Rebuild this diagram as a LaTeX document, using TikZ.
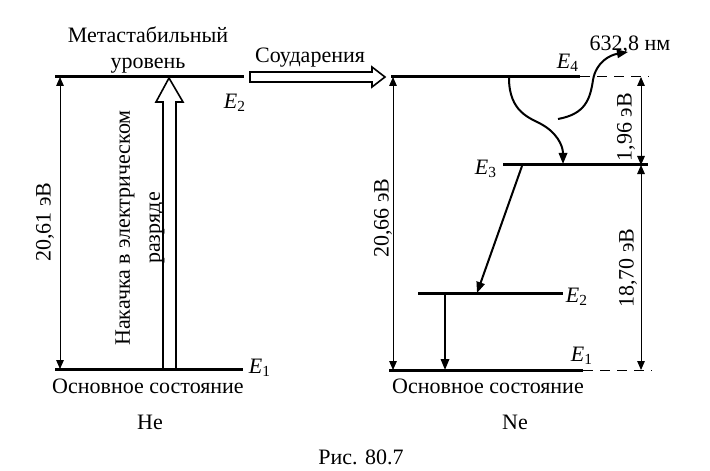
\documentclass[tikz,border=0pt]{standalone}
\usepackage{fontspec}
\setmainfont{Liberation Serif}
\usetikzlibrary{arrows.meta}

\newcommand\En[1]{\textit{E}\textsubscript{#1}}

\begin{document}
\begin{tikzpicture}[x=0.5pt,y=-0.5pt,
    lvl/.style={line width=1.5pt},
    dimline/.style={line width=0.5pt, {Triangle[length=4.5pt,width=3.8pt]}-{Triangle[length=4.5pt,width=3.8pt]}},
    trans/.style={line width=1pt, -{Triangle[length=5.5pt,width=4.2pt]}},
    hollow/.style={line width=0.8pt, line join=miter},
    txt/.style={font=\fontsize{11}{13}\selectfont, inner sep=1pt}]
    \useasboundingbox (0,0) rectangle (710,470);

    % He levels
    \coordinate (HeE2a) at (55,77);
    \coordinate (HeE2b) at (244,77);
    \coordinate (HeE1a) at (55,369);
    \coordinate (HeE1b) at (243,369);
    \draw[lvl] (HeE2a) -- (HeE2b);
    \draw[lvl] (HeE1a) -- (HeE1b);
    \draw[dimline] (60,369) -- (60,77);
    \node[txt, rotate=90] (HeGap) at (45,222) {20,61 эВ};

    % Pumping (hollow arrow)
    \draw[hollow] (163,369) -- (163,102) -- (156,102) -- (169,78) -- (183,102) -- (176,102) -- (176,369);
    \node[txt, rotate=90, align=center] (Pump) at (140,228) {Накачка в электрическом\\[2pt]разряде};

    \node[txt, align=center] (Meta) at (148,50) {Метастабильный\\уровень};
    \node[txt] (HeE2) at (235,103) {\En{2}};
    \node[txt] (HeE1) at (260,368) {\En{1}};
    \node[txt] (HeGround) at (148,386) {Основное состояние};
    \node[txt] (He) at (150,422) {He};

    % Collisions (hollow arrow)
    \draw[hollow] (250,72) -- (372,72) -- (372,67) -- (385,77) -- (372,87) -- (372,82) -- (250,82) -- cycle;
    \node[txt] (Coll) at (310,58) {Соударения};

    % Ne levels
    \coordinate (NeE4a) at (391,77);
    \coordinate (NeE4b) at (580,77);
    \coordinate (NeE4c) at (649,77);
    \coordinate (NeE3a) at (503,165);
    \coordinate (NeE3b) at (648,165);
    \coordinate (NeE2a) at (418,293);
    \coordinate (NeE2b) at (563,293);
    \coordinate (NeE1a) at (389,370);
    \coordinate (NeE1b) at (583,370);
    \coordinate (NeE1c) at (652,370);
    \draw[lvl] (NeE4a) -- (NeE4b);
    \draw[lvl] (NeE3a) -- (NeE3b);
    \draw[lvl] (NeE2a) -- (NeE2b);
    \draw[lvl] (NeE1a) -- (NeE1b);
    \draw[line width=0.5pt, dash pattern=on 5pt off 3.5pt] (NeE4b) -- (NeE4c);
    \draw[line width=0.5pt, dash pattern=on 5pt off 3.5pt] (NeE1b) -- (NeE1c);

    \node[txt] (NeE4) at (568,63) {\En{4}};
    \node[txt] (NeE3) at (486,169) {\En{3}};
    \node[txt] (NeE2) at (577,297) {\En{2}};
    \node[txt] (NeE1) at (582,356) {\En{1}};

    % energy gaps
    \draw[dimline] (393,370) -- (393,77);
    \node[txt, rotate=90] (NeGap) at (383,218) {20,66 эВ};
    \draw[dimline] (641,77) -- (641,165);
    \node[txt, rotate=90] (Gap43) at (626,127) {1,96 эВ};
    \draw[dimline] (641,165) -- (641,370);
    \node[txt, rotate=90] (Gap31) at (628,268) {18,70 эВ};

    % transitions
    \draw[trans] (509,78) .. controls (509,112) and (530,118) .. (541,124)
        .. controls (556,132) and (563,145) .. (563,164);
    \draw[trans] (558,119) .. controls (585,114) and (590,100) .. (593,80)
        .. controls (596,62) and (610,55) .. (628,52);
    \node[txt] (Laser) at (630,45) {632,8 нм};
    \draw[trans] (522,166) -- (477,293);
    \draw[trans] (445,293) -- (445,370);

    \node[txt] (NeGround) at (488,386) {Основное состояние};
    \node[txt] (Ne) at (515,422) {Ne};

    \node[txt] (Caption) at (361,457) {Рис. 80.7};
\end{tikzpicture}
\end{document}
